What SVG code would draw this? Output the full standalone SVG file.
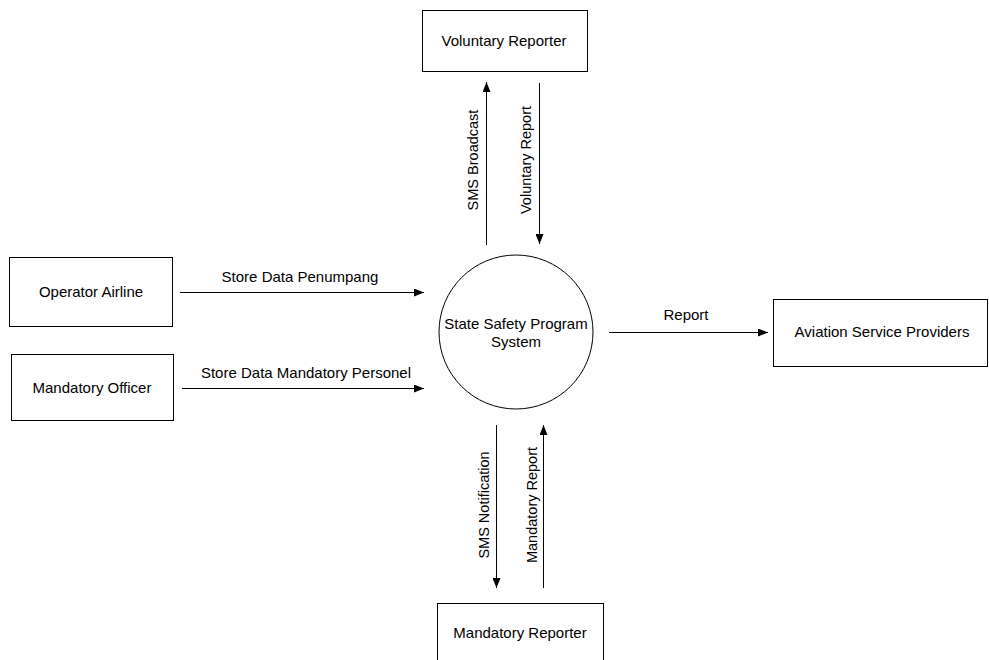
<svg xmlns="http://www.w3.org/2000/svg" width="989" height="660" viewBox="0 0 989 660">
<style>
.box{fill:#fff;stroke:#000;stroke-width:1}
.t{font-family:"Liberation Sans",Arial,sans-serif;font-size:15px;fill:#000;text-anchor:middle}
.r{font-size:14.5px}
.ln{stroke:#000;stroke-width:1;fill:none;marker-end:url(#ah)}
</style>
<defs>
<marker id="ah" markerWidth="10" markerHeight="8" refX="10" refY="4" orient="auto" markerUnits="userSpaceOnUse">
<path d="M0,0 L10,4 L0,8 Z" fill="#000"/>
</marker>
</defs>
<rect width="989" height="660" fill="#fff"/>
<g id="voluntary-reporter"><rect class="box" x="422.5" y="10.5" width="165" height="61"/><text class="t" x="504" y="46">Voluntary Reporter</text></g>
<g id="operator-airline"><rect class="box" x="9.5" y="257.5" width="163" height="69"/><text class="t" x="91" y="297">Operator Airline</text></g>
<g id="mandatory-officer"><rect class="box" x="11.5" y="354.5" width="162" height="66"/><text class="t" x="92" y="393">Mandatory Officer</text></g>
<g id="sspsystem"><circle class="box" cx="516" cy="332" r="77"/><text class="t" x="516" y="329">State Safety Program</text><text class="t" x="516" y="347">System</text></g>
<g id="aviation-service-providers"><rect class="box" x="773.5" y="299.5" width="214" height="67"/><text class="t" x="882" y="337">Aviation Service Providers</text></g>
<g id="mandatory-reporter"><rect class="box" x="437.5" y="603.5" width="166" height="60"/><text class="t" x="520" y="638">Mandatory Reporter</text></g>
<g id="connectors">
<line class="ln" x1="486.5" y1="245" x2="486.5" y2="82"/>
<line class="ln" x1="539.5" y1="83" x2="539.5" y2="244"/>
<line class="ln" x1="180" y1="292.5" x2="424" y2="292.5"/>
<line class="ln" x1="182" y1="388.5" x2="424" y2="388.5"/>
<line class="ln" x1="609" y1="332.5" x2="768" y2="332.5"/>
<line class="ln" x1="496.5" y1="425" x2="496.5" y2="588"/>
<line class="ln" x1="543.5" y1="588" x2="543.5" y2="425"/>
<text class="t" x="300" y="282">Store Data Penumpang</text>
<text class="t" x="306" y="378">Store Data Mandatory Personel</text>
<text class="t" x="686" y="320">Report</text>
<text class="t r" transform="translate(478,160) rotate(-90)">SMS Broadcast</text>
<text class="t r" transform="translate(531,160) rotate(-90)">Voluntary Report</text>
<text class="t r" transform="translate(489,505) rotate(-90)">SMS Notification</text>
<text class="t r" transform="translate(537,505) rotate(-90)">Mandatory Report</text>
</g>
</svg>
